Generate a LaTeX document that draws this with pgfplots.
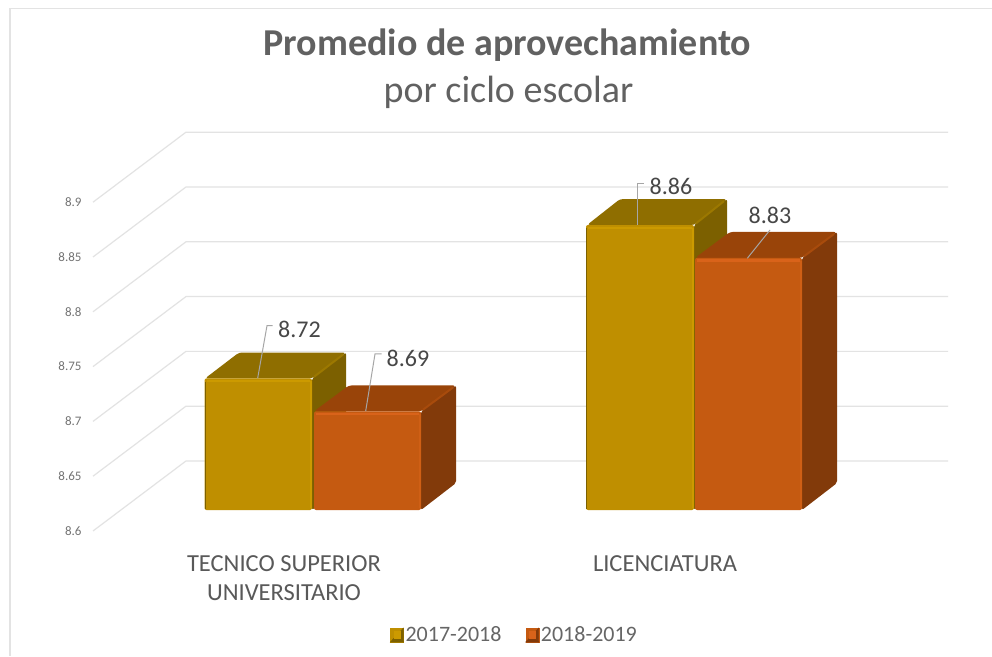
\documentclass[border=0pt]{standalone}
\usepackage{pgfplots}
\pgfplotsset{compat=1.18}
\usepackage{fontspec}
\setmainfont{Carlito}
\definecolor{yfront}{HTML}{BF8F00}
\definecolor{ytop}{HTML}{8F6E00}
\definecolor{yside}{HTML}{7C6000}
\definecolor{ylight}{HTML}{CC9A00}
\definecolor{yedge}{HTML}{9C7800}
\definecolor{ofront}{HTML}{C55A11}
\definecolor{otop}{HTML}{994409}
\definecolor{oside}{HTML}{823A0A}
\definecolor{olight}{HTML}{D9631A}
\definecolor{oright}{HTML}{CF5F15}
\definecolor{oedge}{HTML}{A84B0C}
\definecolor{gridc}{HTML}{E3E3E3}
\definecolor{leadc}{HTML}{A6A6A6}
\newcommand{\legbox}[3]{%
  \fill[#2] (-6pt,-7pt) rectangle (7pt,7pt);
  \fill[#3] (7pt,-7pt) -- (7pt,7pt) -- (0.5pt,0pt) -- cycle;
  \fill[#3] (-6pt,-7pt) -- (7pt,-7pt) -- (0.5pt,0pt) -- cycle;
  \fill[#1] (-2.5pt,-3.5pt) rectangle (3.5pt,3.5pt);}
\begin{document}
\begin{tikzpicture}[x=1pt,y=1pt]
\useasboundingbox (0,0) rectangle (992,656);
\fill[white] (0,0) rectangle (992,656);
% axis holding the value ticks and the back wall grid
\begin{axis}[
  at={(84pt,0pt)},anchor=south west,
  scale only axis,width=908pt,height=656pt,
  xmin=84,xmax=992,ymin=8.48595,ymax=9.08449,
  axis line style={draw=none},
  xtick=\empty,
  ytick={8.6,8.65,8.7,8.75,8.8,8.85,8.9},
  yticklabels={8.6,8.65,8.7,8.75,8.8,8.85,8.9},
  ytick style={draw=none},
  tick label style={font=\fontsize{13}{15}\selectfont,text=black!55},
  /pgf/number format/assume math mode=true,
  yticklabel style={xshift=1pt},
  clip=false,
]
\foreach \a/\b in {8.6/8.6639,8.65/8.7139,8.7/8.7639,8.75/8.8139,8.8/8.8639,8.85/8.9139,8.9/8.9639}{
  \edef\temp{\noexpand\addplot[gridc,line width=1.2pt] coordinates {(93,\a)(186,\b)(948,\b)};}
  \temp
}
\end{axis}
% axis holding the bars
\begin{axis}[
  at={(0pt,0pt)},anchor=south west,
  scale only axis,width=992pt,height=656pt,
  xmin=0,xmax=992,ymin=8.46679,ymax=9.06533,
  axis line style={draw=none},
  ytick=\empty,
  xtick={284,665},
  xticklabels={{TECNICO SUPERIOR\\UNIVERSITARIO},{LICENCIATURA}},
  xtick style={draw=none},
  xticklabel style={align=center,font=\fontsize{24.5}{29}\selectfont,text=black!65,yshift=104pt},
  clip=false,
  legend style={at={(axis cs:514.5,8.4859)},anchor=center,draw=none,fill=none,
    legend columns=2,font=\fontsize{22}{24}\selectfont,text=black!60,
    /tikz/every even column/.append style={column sep=22pt}},
]
% bar 1, 2017-2018, TSU
\addplot[fill=yside,draw=none,rounded corners=2pt,forget plot] coordinates {(312,8.72)(346,8.7437)(346,8.6237)(312,8.6)} -- cycle;
\addplot[fill=ytop,draw=none,rounded corners=3pt,forget plot] coordinates {(205,8.72)(312,8.72)(346,8.7437)(239,8.7437)} -- cycle;
\addplot[yedge,line width=2pt,forget plot] coordinates {(314,8.7215)(343,8.7418)};
\addplot[fill=yfront,draw=none,rounded corners=2pt,forget plot] coordinates {(204.5,8.6)(204.5,8.72)(312,8.72)(312,8.6)} -- cycle;
\addplot[ylight,line width=2.5pt,forget plot] coordinates {(207,8.7175)(310,8.7175)};
\addplot[ylight,line width=1.5pt,forget plot] coordinates {(311,8.7175)(311,8.602)};
\addplot[yside,line width=1pt,forget plot] coordinates {(205,8.717)(205,8.601)};
% bar 2, 2018-2019, TSU
\addplot[fill=oside,draw=none,rounded corners=2pt,forget plot] coordinates {(421,8.69)(456,8.7137)(456,8.6246)(421,8.6)} -- cycle;
\addplot[fill=otop,draw=none,rounded corners=3pt,forget plot] coordinates {(314,8.69)(421,8.69)(456,8.7137)(349,8.7137)} -- cycle;
\addplot[oedge,line width=2pt,forget plot] coordinates {(423,8.6915)(453,8.7118)};
\addplot[fill=ofront,draw=none,rounded corners=2pt,forget plot] coordinates {(314,8.6)(314,8.69)(421,8.69)(421,8.6)} -- cycle;
\addplot[olight,line width=2.5pt,forget plot] coordinates {(316,8.6875)(419,8.6875)};
\addplot[oright,line width=1.5pt,forget plot] coordinates {(420.2,8.6875)(420.2,8.602)};
% bar 3, 2017-2018, LIC
\addplot[fill=yside,draw=none,rounded corners=2pt,forget plot] coordinates {(694,8.86)(727,8.8837)(727,8.6237)(694,8.6)} -- cycle;
\addplot[fill=ytop,draw=none,rounded corners=3pt,forget plot] coordinates {(587,8.86)(694,8.86)(727,8.8837)(620,8.8837)} -- cycle;
\addplot[yedge,line width=2pt,forget plot] coordinates {(696,8.8615)(724,8.8818)};
\addplot[fill=yfront,draw=none,rounded corners=2pt,forget plot] coordinates {(586,8.6)(586,8.86)(694,8.86)(694,8.6)} -- cycle;
\addplot[ylight,line width=2.5pt,forget plot] coordinates {(588,8.8575)(692,8.8575)};
\addplot[ylight,line width=1.5pt,forget plot] coordinates {(693,8.8575)(693,8.602)};
\addplot[yside,line width=1pt,forget plot] coordinates {(586.5,8.857)(586.5,8.601)};
% bar 4, 2018-2019, LIC
\addplot[fill=oside,draw=none,rounded corners=2pt,forget plot] coordinates {(802,8.83)(837,8.8537)(837,8.6246)(802,8.6)} -- cycle;
\addplot[fill=otop,draw=none,rounded corners=3pt,forget plot] coordinates {(695,8.83)(802,8.83)(837,8.8537)(730,8.8537)} -- cycle;
\addplot[oedge,line width=2pt,forget plot] coordinates {(804,8.8315)(834,8.8518)};
\addplot[fill=ofront,draw=none,rounded corners=2pt,forget plot] coordinates {(695,8.6)(695,8.83)(802,8.83)(802,8.6)} -- cycle;
\addplot[olight,line width=2.5pt,forget plot] coordinates {(697,8.8275)(800,8.8275)};
\addplot[oright,line width=1.5pt,forget plot] coordinates {(801.2,8.8275)(801.2,8.602)};
\addlegendimage{legend image code/.code={\legbox{ylight}{yfront}{yside}}}
\addlegendentry{2017-2018}
\addlegendimage{legend image code/.code={\legbox{olight}{ofront}{oside}}}
\addlegendentry{2018-2019}
\end{axis}
% overlays in reference pixel coordinates
\begin{scope}[x=1pt,y=-1pt,yshift=656pt]
\draw[gridc,line width=1.5pt] (10,656) -- (10,8.5) -- (992,8.5);
\draw[leadc,line width=1pt] (257.7,378) -- (267,325.7) -- (272.7,325.7);
\draw[leadc,line width=1pt] (365.7,411) -- (375,354) -- (381.7,354);
\draw[leadc,line width=1pt] (637.7,225) -- (637.7,184) -- (644,184);
\draw[leadc,line width=1pt] (747.3,258.3) -- (770,230);
\node[text=black!72,font=\fontsize{24}{26}\selectfont] at (299.5,329) {8.72};
\node[text=black!72,font=\fontsize{24}{26}\selectfont] at (408,358) {8.69};
\node[text=black!72,font=\fontsize{24}{26}\selectfont] at (671,186) {8.86};
\node[text=black!72,font=\fontsize{24}{26}\selectfont] at (770,215) {8.83};
\node[text=black!62,font=\fontsize{38}{42}\selectfont\bfseries] at (507.5,45) {Promedio de aprovechamiento};
\node[text=black!62,font=\fontsize{38}{42}\selectfont] at (508.5,92) {por ciclo escolar};
\end{scope}
\end{tikzpicture}
\end{document}
